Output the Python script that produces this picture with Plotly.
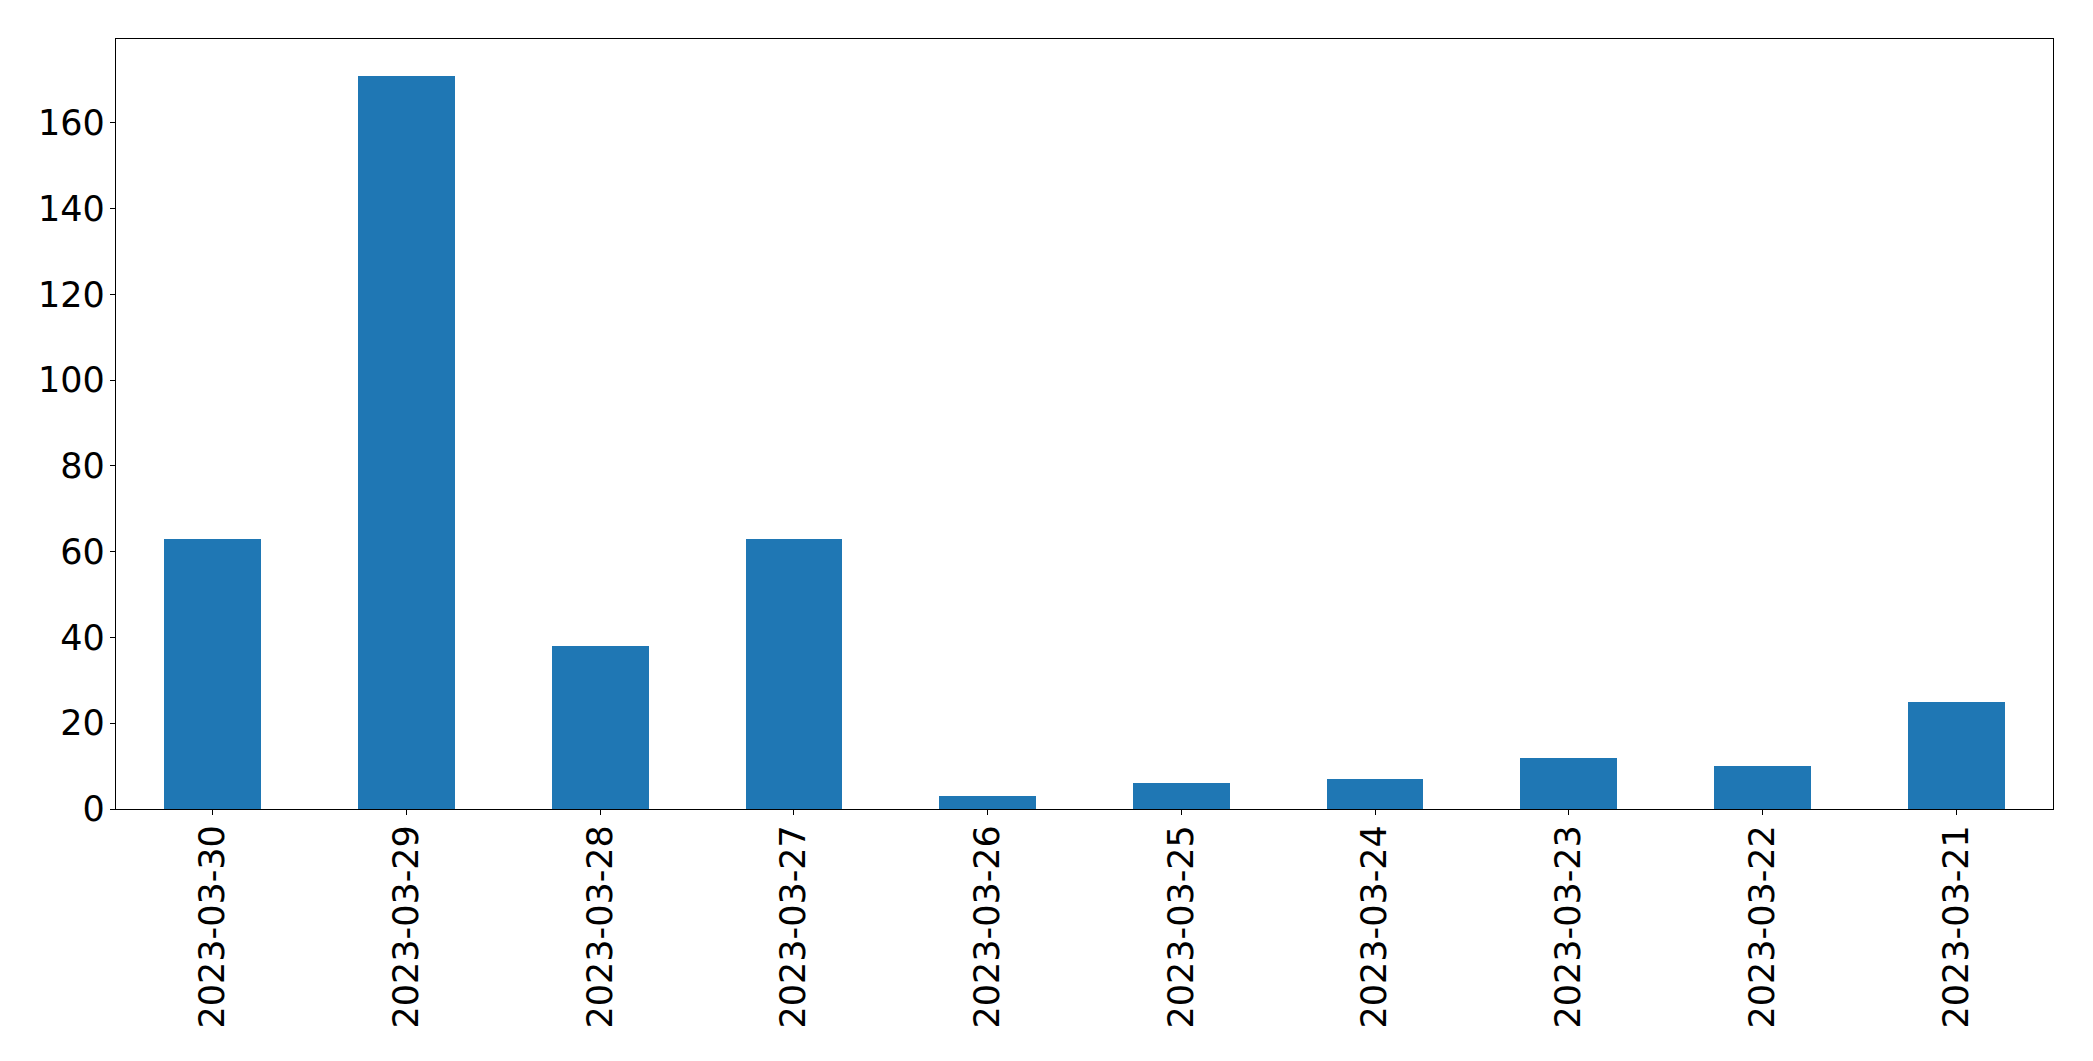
import plotly.graph_objects as go

dates = ["2023-03-30", "2023-03-29", "2023-03-28", "2023-03-27", "2023-03-26",
         "2023-03-25", "2023-03-24", "2023-03-23", "2023-03-22", "2023-03-21"]
counts = [63, 171, 38, 63, 3, 6, 7, 12, 10, 25]
y_ticks = [0, 20, 40, 60, 80, 100, 120, 140, 160]

fig = go.Figure(go.Bar(x=dates, y=counts, width=0.5, marker=dict(color="#1f77b4", line=dict(width=0))))

fig.update_layout(
    width=2093, height=1061,
    margin=dict(l=108, r=48, t=31, b=260),
    plot_bgcolor="white", paper_bgcolor="white",
    font=dict(family="DejaVu Sans", size=35, color="black"),
    showlegend=False,
    bargap=0,
)
fig.update_xaxes(type="category", range=[-0.5, 9.5], tickangle=-90,
                 showline=True, linecolor="black", linewidth=1.3, mirror=True,
                 ticks="outside", ticklen=5, tickwidth=1.3, tickcolor="black",
                 showgrid=False, zeroline=False, ticklabelstandoff=-4)
fig.update_yaxes(range=[0, 179.55], tickvals=y_ticks,
                 showline=True, linecolor="black", linewidth=1.3, mirror=True,
                 ticks="outside", ticklen=5, tickwidth=1.3, tickcolor="black",
                 showgrid=False, zeroline=False, ticklabelstandoff=-2)

fig.write_html("out.html")
